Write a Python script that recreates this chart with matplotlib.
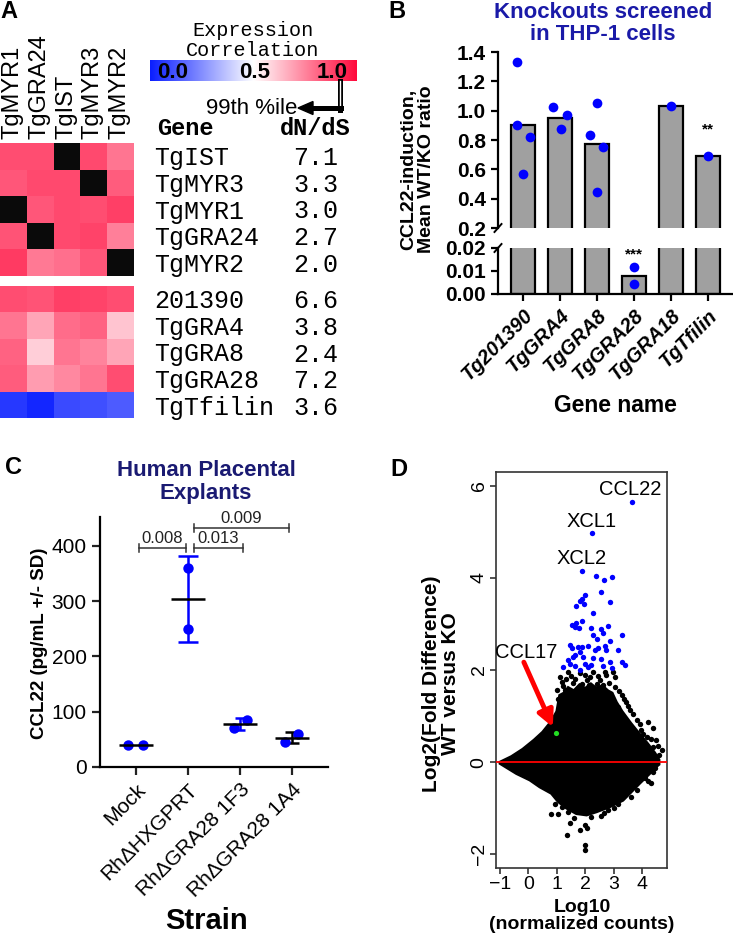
import numpy as np
import matplotlib
matplotlib.use("Agg")
import matplotlib.pyplot as plt
from matplotlib.colors import LinearSegmentedColormap
from matplotlib.lines import Line2D
from matplotlib.patches import Polygon

plt.rcParams['font.family'] = ['Liberation Sans', 'DejaVu Sans']
MONO = 'Liberation Mono'

W, H = 733, 934

# ---------------- panel A: correlation heatmap + dN/dS table
heat_cols = ['TgMYR1', 'TgGRA24', 'TgIST', 'TgMYR3', 'TgMYR2']
top_genes = ['TgIST', 'TgMYR3', 'TgMYR1', 'TgGRA24', 'TgMYR2']
top_dnds = ['7.1', '3.3', '3.0', '2.7', '2.0']
top_corr = [[0.86, 0.86, np.nan, 0.87, 0.78],
            [0.84, 0.87, 0.87, np.nan, 0.83],
            [np.nan, 0.84, 0.87, 0.86, 0.89],
            [0.85, np.nan, 0.87, 0.88, 0.76],
            [0.90, 0.77, 0.79, 0.84, np.nan]]
bot_genes = ['201390', 'TgGRA4', 'TgGRA8', 'TgGRA28', 'TgTfilin']
bot_dnds = ['6.6', '3.8', '2.4', '7.2', '3.6']
bot_corr = [[0.86, 0.85, 0.89, 0.88, 0.86],
            [0.78, 0.68, 0.80, 0.82, 0.62],
            [0.82, 0.60, 0.78, 0.75, 0.68],
            [0.83, 0.70, 0.74, 0.78, 0.86],
            [0.06, 0.02, 0.10, 0.11, 0.14]]

# ---------------- panel B: knockout screen
ko_genes = ['Tg201390', 'TgGRA4', 'TgGRA8', 'TgGRA28', 'TgGRA18', 'TgTfilin']
ko_means = [0.90, 0.95, 0.77, 0.008, 1.03, 0.69]
ko_pt_gene = [0, 0, 0, 0, 1, 1, 1, 2, 2, 2, 2, 3, 3, 4, 5]
ko_pt_dx = [-0.16, -0.16, 0.18, 0.0, -0.18, 0.18, 0.02, 0.0, -0.18, 0.16, 0.0, 0.0, 0.0, 0.0, 0.0]
ko_pt_val = [1.334, 0.902, 0.822, 0.566, 1.027, 0.97, 0.873, 1.05, 0.836, 0.75, 0.445,
             0.0116, 0.0042, 1.034, 0.69]

# ---------------- panel C: placental explants
strains = ['Mock', 'RhΔHXGPRT', 'RhΔGRA28 1F3', 'RhΔGRA28 1A4']
c_means = [40, 304, 77.5, 53]
c_sd = [0, 78, 10.5, 9.5]
c_pts_dx = [[-0.15, 0.13], [0.0, 0.0], [-0.11, 0.14], [-0.14, 0.12]]
c_pts_y = [[40, 40], [359, 249.5], [70, 85], [46, 60]]
c_err_col = ['blue', 'blue', 'blue', 'black']
c_caps = [0, 7, 3.6, 4.8]
sig_labels = ['0.008', '0.013', '0.009']
sig_x0 = [0.06, 1.115, 1.115]
sig_x1 = [0.96, 2.06, 2.94]
sig_y = [396, 396, 432]

# ---------------- panel D: MA plot
cloud_top_x = [-1.0, -0.6, -0.2, 0.2, 0.5, 0.8, 1.0, 1.1, 1.25, 1.4, 1.6, 1.8, 2.0, 2.2, 2.4,
               2.6, 2.8, 2.95, 3.1, 3.3, 3.6, 3.9, 4.2, 4.45, 4.6]
cloud_top_y = [0.0, 0.12, 0.28, 0.48, 0.65, 0.88, 1.1, 1.45, 1.5, 1.62, 1.55, 1.68, 1.6, 1.7,
               1.6, 1.66, 1.55, 1.5, 1.3, 1.1, 0.85, 0.62, 0.4, 0.2, 0.05]
cloud_bot_x = [4.6, 4.5, 4.27, 3.92, 3.57, 3.33, 2.87, 2.4, 2.05, 1.69, 1.34, 1.05, 0.81,
               0.4, 0.05, -0.42, -1.0]
cloud_bot_y = [-0.05, -0.1, -0.25, -0.46, -0.68, -0.83, -0.97, -1.08, -1.15, -1.12, -1.0,
               -0.86, -0.68, -0.54, -0.39, -0.25, -0.03]
edge_x = [1.17, 1.40, 1.57, 1.81, 2.05, 2.28, 2.51, 2.75, 2.98, 3.04, 3.28, 3.45, 3.57, 3.16,
          3.81, 4.22, 3.98, 4.39, 4.16, 4.51, 4.69, 4.39, 0.99, 1.05, 1.28, 1.75,
          1.10, 1.22, 1.33, 1.50, 1.63, 1.90, 1.98, 2.12, 2.18, 2.40, 2.45, 2.62, 2.68,
          2.85, 3.05, 3.20, 3.35, 3.50, 3.68, 3.92, 4.05, 4.30, 4.55, 4.60,
          0.81, 1.05, 1.40, 1.46, 1.36, 1.81, 1.99, 2.05, 2.01, 2.01, 2.57, 2.81, 3.16,
          3.81, 4.10, 4.33, 4.39, 3.00, 2.65, 2.20, 1.60, 1.20, 0.95, 3.60, 4.20, 4.45]
edge_y = [1.75, 1.96, 1.71, 1.93, 1.78, 1.96, 1.78, 1.89, 1.96, 1.64, 1.46, 1.31, 1.13, 1.20,
          0.91, 0.88, 0.70, 0.73, 0.55, 0.48, 0.26, 0.33, 1.57, 1.38, 1.57, 1.60,
          1.85, 1.65, 1.80, 1.88, 1.80, 1.70, 1.90, 1.68, 1.85, 1.70, 1.88, 1.68, 1.95,
          1.72, 1.85, 1.55, 1.38, 1.22, 1.05, 0.82, 0.60, 0.50, 0.35, 0.15,
          -1.12, -1.13, -1.08, -1.33, -1.59, -1.48, -1.37, -1.44, -1.80, -1.90, -1.17, -1.04,
          -0.90, -0.61, -0.35, -0.45, -0.21, -1.00, -1.10, -1.20, -1.22, -0.98, -0.90,
          -0.75, -0.40, -0.12]
blue_x = [3.64, 2.23, 1.87, 2.37, 2.65, 2.93, 2.54, 1.99, 2.87, 1.67, 1.81, 1.95, 1.87, 2.28,
          1.52, 1.69, 1.87, 1.79, 1.63, 2.22, 2.57, 2.81, 2.26, 2.63, 2.40, 3.28, 2.89,
          1.46, 1.52, 1.75, 1.87, 1.81, 1.63, 2.10, 2.34, 2.45, 2.69, 2.75, 3.16,
          1.57, 1.40, 1.46, 1.93, 2.28, 2.57, 2.87, 3.28, 3.39, 1.22, 1.63, 1.99, 2.10,
          2.22, 2.63, 2.93, 1.81]
blue_y = [5.65, 4.98, 4.14, 4.04, 3.96, 4.01, 3.70, 3.63, 3.47, 3.40, 3.49, 3.43, 3.54, 3.23,
          2.98, 3.01, 3.07, 2.91, 2.94, 2.92, 2.88, 2.96, 2.76, 2.80, 2.67, 2.76, 2.62,
          2.54, 2.47, 2.49, 2.51, 2.40, 2.33, 2.52, 2.43, 2.47, 2.52, 2.43, 2.43,
          2.29, 2.22, 2.14, 2.29, 2.25, 2.24, 2.18, 2.18, 2.11, 2.07, 2.09, 2.14, 2.07,
          2.11, 2.09, 2.04, 2.00]
ccl17_xy = (0.97, 0.63)
gene_labels = ['CCL22', 'XCL1', 'XCL2', 'CCL17']
gene_label_x = [3.57, 2.23, 1.88, -0.06]
gene_label_y = [5.93, 5.22, 4.43, 2.37]


def fx(x):
    return x / W


def fy(y):
    return 1 - y / H


def box(x0, y0, x1, y1):
    return [fx(x0), fy(y1), (x1 - x0) / W, (y1 - y0) / H]


fig = plt.figure(figsize=(W / 100, H / 100), dpi=100)


def ftext(x, y, s, **kw):
    fig.text(fx(x), fy(y), s, **kw)


# panel letters
for lab, (x, y) in zip('ABCD', [(9, 12), (397, 11), (13, 467), (399, 470)]):
    ftext(x, y, lab, fontsize=17, fontweight='bold', ha='center', va='center')

# ---- A
cmap = LinearSegmentedColormap.from_list('corr', ['#0a1eff', '#ffffff', '#ff0a3c'])
cmap.set_bad('#0a0a0a')
for data, (y0, y1) in [(top_corr, (143, 276)), (bot_corr, (286, 418))]:
    ax = fig.add_axes(box(0, y0, 134, y1))
    ax.imshow(np.ma.masked_invalid(np.array(data)), cmap=cmap, vmin=0, vmax=1,
              aspect='auto', interpolation='nearest')
    ax.set_axis_off()

for j, name in enumerate(heat_cols):
    ftext(12.5 + 26.8 * j, 139, name, rotation=90, ha='center', va='bottom', fontsize=17)

ftext(157, 129, 'Gene', family=MONO, fontweight='bold', fontsize=17, va='center')
ftext(280, 129, 'dN/dS', family=MONO, fontweight='bold', fontsize=17, va='center')
for genes, vals, y0 in [(top_genes, top_dnds, 143), (bot_genes, bot_dnds, 286)]:
    for i, (g, v) in enumerate(zip(genes, vals)):
        yc = y0 + 26.6 * (i + 0.5) + 2
        ftext(154, yc, g, family=MONO, fontsize=18, va='center')
        ftext(293, yc, v, family=MONO, fontsize=18, va='center')

ftext(253, 30, 'Expression', family=MONO, fontsize=14.5, ha='center', va='center')
ftext(253, 50, 'Correlation', family=MONO, fontsize=14.5, ha='center', va='center')

axcb = fig.add_axes(box(150, 60, 357, 81))
axcb.imshow(np.linspace(0, 1, 256)[None, :], cmap=cmap, aspect='auto', extent=[0, 1, 0, 1])
axcb.set_axis_off()
for s, xx, ha in [('0.0', 0.034, 'left'), ('0.5', 0.507, 'center'), ('1.0', 0.957, 'right')]:
    axcb.text(xx, 0.42, s, transform=axcb.transAxes, ha=ha, va='center',
              fontsize=16, fontweight='bold')

# "99th %ile" pointer
fig.add_artist(Line2D([fx(339.5), fx(339.5)], [fy(81), fy(110)], color='black', lw=3.6))
fig.add_artist(Line2D([fx(339.5), fx(339.5)], [fy(81), fy(106)], color='white', lw=1.0))
fig.add_artist(Line2D([fx(310), fx(341.3)], [fy(108), fy(108)], color='black', lw=3.6))
fig.add_artist(Polygon([(fx(298), fy(108)), (fx(313), fy(101.5)), (fx(313), fy(114.5))],
                       closed=True, color='black', transform=fig.transFigure))
ftext(297, 108, '99th %ile', fontsize=16, ha='right', va='center')

# ---- B
axb_top = fig.add_axes(box(498, 52, 732, 228))
axb_bot = fig.add_axes(box(498, 248, 732, 294))
xb = np.arange(len(ko_genes))
px = xb[np.array(ko_pt_gene)] + np.array(ko_pt_dx)
for ax in (axb_top, axb_bot):
    ax.bar(xb, ko_means, width=0.65, color='#a0a0a0', edgecolor='black', linewidth=1.6)
    ax.plot(px, ko_pt_val, 'o', color='#0000ff', ms=7, mec='none', zorder=4)
    ax.set_xlim(-0.68, 5.65)
    for sp in ['top', 'right']:
        ax.spines[sp].set_visible(False)
    for sp in ['left', 'bottom']:
        ax.spines[sp].set_linewidth(1.6)
    ax.tick_params(width=1.6, length=5, labelsize=15)
axb_top.spines['bottom'].set_visible(False)
axb_top.set_xticks([])
axb_top.set_ylim(0.2, 1.4)
tt = np.arange(0.2, 1.41, 0.2)
axb_top.set_yticks(tt)
axb_top.set_yticklabels([f'{t:.1f}' for t in tt], fontweight='bold')
axb_bot.set_ylim(0, 0.02)
axb_bot.set_yticks([0, 0.01, 0.02])
axb_bot.set_yticklabels(['0.00', '0.01', '0.02'], fontweight='bold')
axb_bot.set_xticks(xb)
axb_bot.set_xticklabels(ko_genes, rotation=45, ha='right', rotation_mode='anchor',
                        fontweight='bold', fontstyle='italic', fontsize=14.5)
axb_top.text(5, 0.875, '**', ha='center', va='center', fontsize=11, fontweight='bold')
axb_bot.text(3, 0.0172, '***', ha='center', va='center', fontsize=11, fontweight='bold')
for yy in (228, 248):
    fig.add_artist(Line2D([fx(494.5), fx(501.5)], [fy(yy + 4), fy(yy - 4)], color='black', lw=1.4))
ftext(418, 169, 'CCL22-induction,\nMean WT/KO ratio', rotation=90, ha='center', va='center',
      fontsize=14, fontweight='bold', linespacing=1.05)
ftext(603, 12, 'Knockouts screened', ha='center', va='center', fontsize=16,
      fontweight='bold', color='#1a1aa8')
ftext(603, 34, 'in THP-1 cells', ha='center', va='center', fontsize=16,
      fontweight='bold', color='#1a1aa8')
ftext(615, 405, 'Gene name', ha='center', va='center', fontsize=16.5, fontweight='bold')

# ---- C
axc = fig.add_axes(box(100, 517, 328, 767))
xc = np.arange(len(strains))
for i in range(len(strains)):
    if c_sd[i] > 0:
        axc.errorbar(xc[i], c_means[i], yerr=c_sd[i], fmt='none', ecolor=c_err_col[i],
                     elinewidth=1.8, capsize=c_caps[i], capthick=1.8, zorder=2)
    axc.plot(xc[i] + np.array(c_pts_dx[i]), c_pts_y[i], 'o', color='#0000ff', ms=7.5,
             mec='none', zorder=3)
    axc.hlines(c_means[i], xc[i] - 0.32, xc[i] + 0.32, color='black', lw=1.8, zorder=4)
for lab, x0, x1, y in zip(sig_labels, sig_x0, sig_x1, sig_y):
    axc.plot([x0, x1], [y, y], color='#333333', lw=1.1, clip_on=False)
    for xx in (x0, x1):
        axc.plot([xx, xx], [y - 7, y + 7], color='#333333', lw=1.1, clip_on=False)
    axc.text((x0 + x1) / 2, y + 3, lab, ha='center', va='bottom', fontsize=12,
             color='#222222')
axc.set_xlim(-0.69, 3.69)
axc.set_ylim(0, 452)
axc.set_yticks([0, 100, 200, 300, 400])
axc.set_xticks(xc)
axc.set_xticklabels(strains, rotation=45, ha='right', rotation_mode='anchor', fontsize=15)
axc.tick_params(width=1.6, length=6, labelsize=15, color='#222222')
axc.tick_params(axis='x', labelsize=15)
for sp in ['top', 'right']:
    axc.spines[sp].set_visible(False)
for sp in ['left', 'bottom']:
    axc.spines[sp].set_linewidth(1.6)
ftext(40, 643, 'CCL22 (pg/mL +/- SD)', rotation=90, ha='center', va='center',
      fontsize=13.5, fontweight='bold')
ftext(206, 470, 'Human Placental', ha='center', va='center', fontsize=16,
      fontweight='bold', color='#1a1a72')
ftext(206, 493, 'Explants', ha='center', va='center', fontsize=16,
      fontweight='bold', color='#1a1a72')
ftext(207, 921, 'Strain', ha='center', va='center', fontsize=21, fontweight='bold')

# ---- D
axd = fig.add_axes(box(496, 472, 667, 868))
axd.fill(cloud_top_x + cloud_bot_x, cloud_top_y + cloud_bot_y, color='black', lw=2, zorder=2)
axd.scatter(edge_x, edge_y, s=15, color='black', lw=0, zorder=2)
axd.axhline(0, color='red', lw=1.3, zorder=3)
axd.scatter(blue_x, blue_y, s=15, color='#0000ff', lw=0, zorder=4)
axd.scatter([ccl17_xy[0]], [ccl17_xy[1]], s=14, color='#22dd22', lw=0, zorder=5)
for lab, x, y in zip(gene_labels, gene_label_x, gene_label_y):
    axd.text(x, y, lab, ha='center', va='center', fontsize=14.5)
axd.annotate('', xy=(0.86, 0.76), xytext=(-0.16, 2.17),
             arrowprops=dict(arrowstyle='-|>', color='red', lw=3.5, mutation_scale=24,
                             shrinkA=0, shrinkB=0), zorder=6)
axd.set_xlim(-1.14, 4.88)
axd.set_ylim(-2.3, 6.3)
axd.set_xticks([-1, 0, 1, 2, 3, 4])
axd.set_yticks([-2, 0, 2, 4, 6])
axd.tick_params(width=1.2, length=4, pad=2, labelsize=14, color='#333333')
for lbl in axd.get_yticklabels():
    lbl.set_rotation(90)
    lbl.set_va('center')
for sp in axd.spines.values():
    sp.set_linewidth(1.2)
    sp.set_color('#333333')
ftext(441, 684, 'Log2(Fold Difference)\nWT versus KO', rotation=90, ha='center',
      va='center', fontsize=15, fontweight='bold', linespacing=0.95)
ftext(582, 916, 'Log10\n(normalized counts)', ha='center', va='center', fontsize=14,
      fontweight='bold', linespacing=0.95)

fig.savefig('out.png', dpi=100)
